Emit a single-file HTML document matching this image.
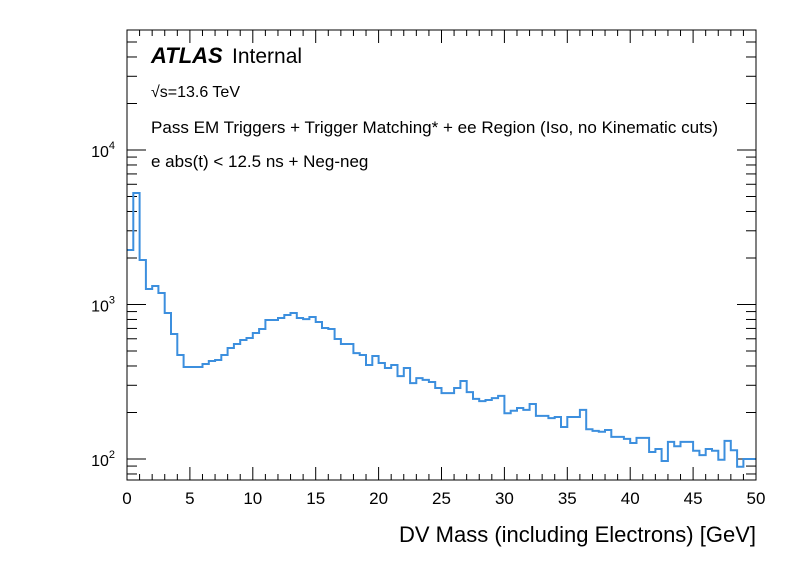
<!DOCTYPE html>
<html><head><meta charset="utf-8"><style>
body{margin:0;background:#fff;}
svg text{font-family:"Liberation Sans",Arial,sans-serif;fill:#000;}
</style></head><body>
<svg id="chart" width="796" height="572" viewBox="0 0 796 572" xmlns="http://www.w3.org/2000/svg">
<rect x="0" y="0" width="796" height="572" fill="#fff"/>
<g id="axes"></g>
<path id="hist" fill="none" stroke="#3c8fde" stroke-width="2"/>
<rect x="127" y="30" width="629" height="450" fill="none" stroke="#000" stroke-width="1"/>
<text x="151" y="63" font-size="22" font-weight="bold" font-style="italic">ATLAS</text>
<text x="232" y="63" font-size="21">Internal</text>
<text x="151" y="97" font-size="16">√s=13.6 TeV</text>
<text x="151" y="133" font-size="17" textLength="567" lengthAdjust="spacingAndGlyphs">Pass EM Triggers + Trigger Matching* + ee Region (Iso, no Kinematic cuts)</text>
<text x="151" y="167" font-size="17">e abs(t) &lt; 12.5 ns + Neg-neg</text>
<text x="756" y="542" font-size="22" text-anchor="end">DV Mass (including Electrons) [GeV]</text>
</svg>
<script>
const binWidth = 0.5;
const xMin = 0, xMax = 50;
const counts = [2254,5270,1941,1260,1318,1187,881,644,471,394,394,394,412,431,437,471,523,555,589,607,
654,694,794,794,818,855,881,818,805,830,771,705,694,598,555,555,485,471,406,464,
418,388,406,344,388,310,334,325,315,288,267,267,288,320,271,245,237,241,248,256,
198,205,214,208,227,190,190,184,187,161,187,187,208,156,152,150,154,139,139,135,
127,137,137,111,116,97,129,121,129,129,113,106,116,113,99,131,114,89,100,100];
const xTicks = [0,5,10,15,20,25,30,35,40,45,50];
const yTickExps = [2,3,4];

const L=127,R=756,T=30,B=480;
const logMin = 2 - 21/154.5, logMax = 2 + 429/154.5;
function xs(v){return L+(v-xMin)/(xMax-xMin)*(R-L);}
function ys(v){return B-(Math.log10(v)-logMin)/(logMax-logMin)*(B-T);}
const NS="http://www.w3.org/2000/svg";
const axes=document.getElementById('axes');
function line(x1,y1,x2,y2,name){const l=document.createElementNS(NS,'line');
l.setAttribute('x1',x1);l.setAttribute('y1',y1);l.setAttribute('x2',x2);l.setAttribute('y2',y2);
l.setAttribute('stroke','#000');l.setAttribute('stroke-width','1');


axes.appendChild(l);}
function txt(x,y,s,anchor,size,name){const t=document.createElementNS(NS,'text');
t.setAttribute('x',x);t.setAttribute('y',y);t.setAttribute('text-anchor',anchor);t.setAttribute('font-size',size);
t.textContent=s;


document.getElementById('chart').appendChild(t);return t;}
for(let v=xMin; v<=xMax; v+=1){const x=xs(v);const major=(v%5===0);const h=major?13:6;
 line(x,B,x,B-h,'x-tick');line(x,T,x,T+h,'x-tick-top');}
xTicks.forEach(v=>txt(xs(v),504,String(v),'middle',17,'x-tick-label'));
for(let e=1;e<=4;e++){for(let m=1;m<10;m++){const v=m*Math.pow(10,e);const lv=Math.log10(v);
 if(lv<logMin||lv>logMax)continue;const y=ys(v);const h=(m===1)?19:10;
 line(L,y,L+h,y,'y-tick');line(R,y,R-h,y,'y-tick-right');}}
yTickExps.forEach(e=>{const y=ys(Math.pow(10,e));
 const t=txt(L-6,y+7,'10','end',16,'y-tick-label');
 const s=document.createElementNS(NS,'tspan');s.setAttribute('dy','-8');s.setAttribute('font-size','11');s.textContent=String(e);
 t.setAttribute('x',L-12);t.appendChild(s);});
let d='';
counts.forEach((c,i)=>{const x0=xs(i*binWidth),x1=xs((i+1)*binWidth),y=ys(c);
 d+=(i===0?'M':' L')+x0.toFixed(1)+','+y.toFixed(1)+' L'+x1.toFixed(1)+','+y.toFixed(1);});
document.getElementById('hist').setAttribute('d',d);
</script>
</body></html>
